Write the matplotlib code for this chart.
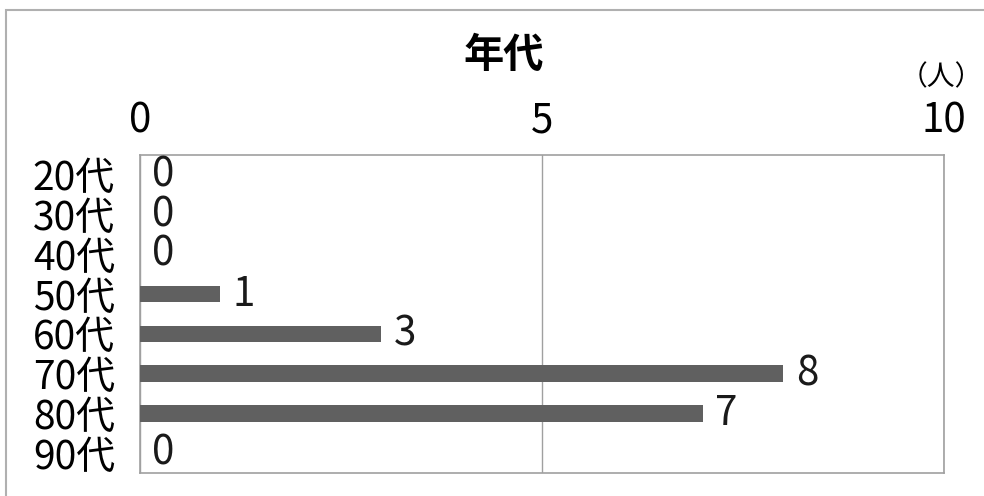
import matplotlib
matplotlib.use("Agg")
import matplotlib.pyplot as plt
from matplotlib.patches import Rectangle

plt.rcParams['font.family'] = ['Noto Sans CJK JP', 'DejaVu Sans']

categories = ["20代", "30代", "40代", "50代", "60代", "70代", "80代", "90代"]
values = [0, 0, 0, 1, 3, 8, 7, 0]
xticks = [0, 5, 10]
title = "年代"
unit = "（人）"

fig = plt.figure(figsize=(9.84, 4.96), dpi=100)
fig.patches.append(Rectangle((6/984, -0.1), 1.2, (496-10)/496 + 0.1, transform=fig.transFigure,
                             fill=False, edgecolor="#b0b0b0", linewidth=1.5))

ax = fig.add_axes([140/984, 1-473/496, (944-140)/984, (473-155)/496])
ypos = list(range(len(categories)))
ax.barh(ypos, values, height=0.42, color="#606060", zorder=3)
ax.set_xlim(0, 10)
ax.set_ylim(len(categories) - 0.5, -0.5)
ax.set_yticks(ypos)
ax.set_yticklabels(categories, fontsize=28)
ax.set_xticks(xticks)
ax.set_xticklabels([str(t) for t in xticks], fontsize=29)
ax.xaxis.tick_top()
ax.tick_params(axis="x", length=0, pad=10)
ax.tick_params(axis="y", length=0, pad=18)
ax.grid(axis="x", color="#a0a0a0", linewidth=1, zorder=0)
for s in ax.spines.values():
    s.set_color("#a0a0a0")
    s.set_linewidth(1.2)

for y, v in zip(ypos, values):
    ax.annotate(str(v), (v, y), xytext=(9, 0), textcoords="offset points",
                va="center", ha="left", fontsize=29, color="#1a1a1a")

fig.text(504/984, 1-55/496, title, ha="center", va="center", fontsize=29, fontweight="bold")
fig.text(941/984, 1-77/496, unit, ha="center", va="center", fontsize=20)

fig.savefig("out.png", dpi=100)
